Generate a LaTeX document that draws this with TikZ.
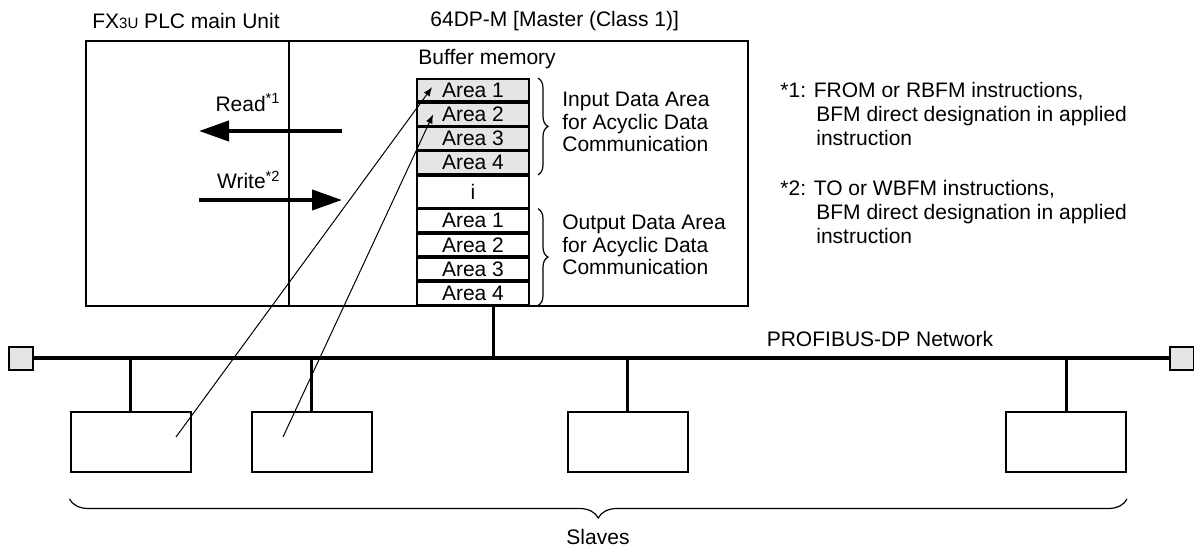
\documentclass[tikz,border=0pt]{standalone}
\usepackage{fontspec}
\setmainfont{Liberation Sans}
\usetikzlibrary{positioning,arrows.meta,decorations.pathreplacing}

\tikzset{
  area/.style={draw, line width=0.9pt, minimum width=56pt, minimum height=11.2pt, inner sep=0pt},
  inarea/.style={area, fill=gray!20},
  slave/.style={draw, line width=1pt, minimum width=60pt, minimum height=30pt},
  term/.style={draw, line width=1pt, fill=gray!20, minimum width=12pt, minimum height=11.5pt, inner sep=0pt},
  lbl/.style={inner sep=0pt, anchor=west, align=left},
  rw/.style={line width=2pt, -{Triangle[length=15pt,width=10pt]}},
  acyc/.style={line width=0.5pt, -{Latex[length=4.5pt,width=3.5pt]}},
  brc/.style={decorate, decoration={brace, amplitude=5pt}, line width=0.6pt}
}

\begin{document}
\begin{tikzpicture}[x=0.5pt, y=-0.5pt, font=\fontsize{10.5}{11.25}\selectfont]
\useasboundingbox (0,0) rectangle (1194,549);

% PLC and master unit
\node (unit) [draw, line width=1pt, minimum width=331pt, minimum height=132.5pt, inner sep=0pt] at (417,173.5) {};
\coordinate (dv) at (289,0);
\draw [line width=1pt] (unit.north -| dv) -- (unit.south -| dv);
\node (plc) [lbl] at (92,21) {FX{\fontsize{7.5}{9}\selectfont 3U} PLC main Unit};
\node (mst) [lbl] at (430,21) {64DP-M [Master (Class 1)]};
\node (buf) [lbl] at (418,59) {Buffer memory};

% buffer memory
\node (i1) [inarea] at (473,90.2) {Area 1};
\node (i2) [inarea, below=0pt of i1] {Area 2};
\node (i3) [inarea, below=0pt of i2] {Area 3};
\node (i4) [inarea, below=0pt of i3] {Area 4};
\node (gap) [area, minimum height=16pt, below=0pt of i4] {i};
\node (o1) [area, below=0pt of gap] {Area 1};
\node (o2) [area, below=0pt of o1] {Area 2};
\node (o3) [area, below=0pt of o2] {Area 3};
\node (o4) [area, below=0pt of o3] {Area 4};

\coordinate (bx) at (538,0);
\draw [brc] (i1.north -| bx) -- (i4.south -| bx);
\draw [brc] (o1.north -| bx) -- (o4.south -| bx);
\node (inlbl) [lbl] at (562,122) {Input Data Area\\for Acyclic Data\\Communication};
\node (outlbl) [lbl] at (562,245) {Output Data Area\\for Acyclic Data\\Communication};

% read / write
\coordinate (rd0) at (342,131);
\coordinate (rd1) at (199,131);
\coordinate (wr0) at (199,200);
\coordinate (wr1) at (342,200);
\draw [rw] (rd0) -- (rd1);
\draw [rw] (wr0) -- (wr1);
\node (rdl) [inner sep=0pt, anchor=east] at (281,103) {Read\textsuperscript{*1}};
\node (wrl) [inner sep=0pt, anchor=east] at (281,180) {Write\textsuperscript{*2}};

\node (fn1) [lbl, font=\fontsize{10.5}{12}\selectfont] at (780,114) {*1: FROM or RBFM instructions,\\\hspace*{18pt}BFM direct designation in applied\\\hspace*{18pt}instruction};
\node (fn2) [lbl, font=\fontsize{10.5}{12}\selectfont] at (780,212) {*2: TO or WBFM instructions,\\\hspace*{18pt}BFM direct designation in applied\\\hspace*{18pt}instruction};

% network
\node (tl) [term] at (21,358.5) {};
\node (tr) [term] at (1181.5,358.5) {};
\draw [line width=2pt] (tl) -- (tr);
\coordinate (bus) at (0,359);
\node (net) at (880,339) {PROFIBUS-DP Network};
\coordinate (mx) at (493,0);
\draw [line width=1.5pt] (unit.south -| mx) -- (mx |- bus);

% slaves
\node (s1) [slave] at (130.5,442) {};
\node (s2) [slave] at (311.5,442) {};
\node (s3) [slave] at (627.5,442) {};
\node (s4) [slave] at (1066,442) {};
\foreach \s in {s1,s2,s3,s4}
  \draw [line width=1.5pt] (\s.north) -- (\s.north |- bus);

\coordinate (by) at (0,499);
\draw [decorate, decoration={brace, amplitude=9.5pt}, line width=0.6pt] (s4.east |- by) -- (s1.west |- by);
\node (slv) at (598,537) {Slaves};

% acyclic data
\coordinate (c1) at (176,437);
\coordinate (c2) at (283,437);
\draw [acyc] (c1) -- ([xshift=8pt,yshift=1.5pt]i1.west);
\draw [acyc] (c2) -- ([xshift=8.5pt]i2.west);
\end{tikzpicture}
\end{document}
